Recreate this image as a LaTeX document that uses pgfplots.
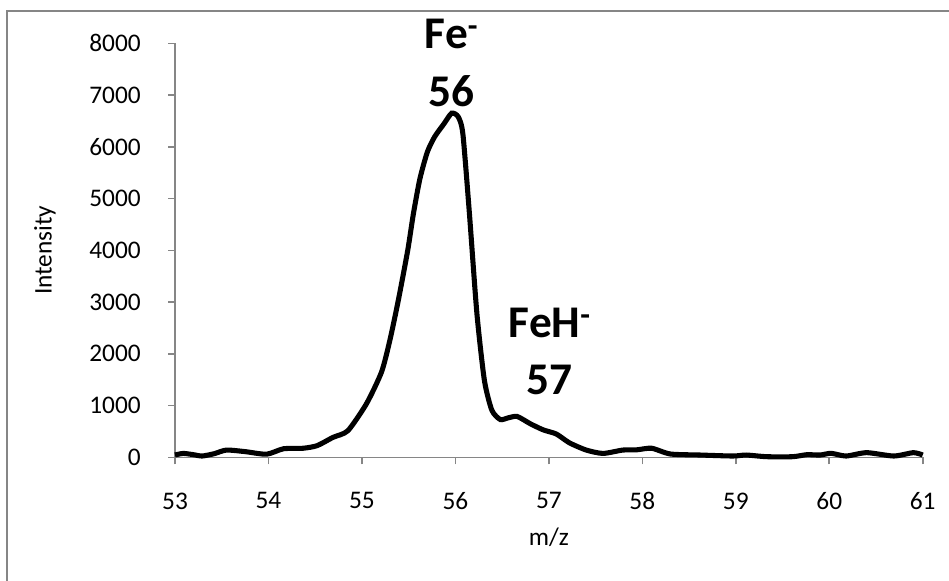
\documentclass[border=0pt]{standalone}
\usepackage{pgfplots}
\pgfplotsset{compat=1.18}
\usepackage{fontspec}
\setmainfont{Carlito}
\definecolor{axisgray}{HTML}{868686}

\begin{document}
\begin{tikzpicture}
  % page frame: 949x581 px at 0.75pt per px
  \useasboundingbox (0,0) rectangle (711.75pt,-435.75pt);
  \draw[axisgray, line width=1.5pt] (5.6pt,-440pt) -- (5.6pt,-8.25pt) -- (720pt,-8.25pt);
  \begin{axis}[
      at={(131.25pt,-342.98pt)}, anchor=south west,
      width=560.8pt, height=310.5pt, scale only axis,
      axis lines=left,
      axis line style={-, axisgray, line width=1.2pt},
      xmin=53, xmax=61,
      ymin=0, ymax=8000,
      xtick={53,54,...,61},
      ytick={0,1000,...,8000},
      tick align=outside,
      major tick length=5.25pt,
      tick style={axisgray, line width=1.2pt},
      /pgf/number format/1000 sep={},
      /pgf/number format/assume math mode=true,
      tick label style={font=\fontsize{19}{23}\selectfont},
      yticklabel style={anchor=east, inner sep=0pt, xshift=-20.25pt},
      xticklabel style={anchor=north, inner sep=0pt, yshift=-21pt},
      xlabel={m/z},
      ylabel={Intensity},
      every axis x label/.style={at={(axis description cs:0.5,-0.1925)}, anchor=center, font=\fontsize{19}{23}\selectfont},
      every axis y label/.style={at={(axis description cs:-0.174,0.5)}, rotate=90, anchor=center, font=\fontsize{19}{23}\selectfont},
      clip=false,
    ]
    \addplot[black, line width=3.8pt, smooth, tension=0.4] coordinates {
      (53.00, 45) (53.09, 75) (53.20, 50) (53.29, 25) (53.42, 70)
      (53.55, 140) (53.75, 110) (53.98, 60) (54.16, 165) (54.37, 175)
      (54.52, 225) (54.69, 385) (54.85, 515) (55.05, 1040) (55.21, 1650)
      (55.30, 2270) (55.39, 3040) (55.49, 4000) (55.55, 4700) (55.62, 5380)
      (55.70, 5900) (55.78, 6200) (55.88, 6450) (55.96, 6650) (56.03, 6580)
      (56.08, 6250) (56.15, 4710) (56.23, 2780) (56.31, 1490) (56.39, 910)
      (56.48, 730) (56.56, 760) (56.66, 790) (56.80, 650) (56.94, 530)
      (57.08, 450) (57.22, 280) (57.40, 140) (57.58, 75) (57.79, 140)
      (57.94, 145) (58.10, 175) (58.30, 64) (58.62, 44) (58.97, 25)
      (59.11, 44) (59.33, 12) (59.61, 12) (59.76, 51) (59.90, 44)
      (60.02, 77) (60.18, 25) (60.40, 90) (60.69, 25) (60.90, 90)
      (61.00, 44)
    };
    \node[anchor=base, font=\fontsize{34}{40}\selectfont\bfseries] at (axis cs:55.96,7908) {Fe\textsuperscript{-}};
    \node[anchor=base, font=\fontsize{34}{40}\selectfont\bfseries] at (axis cs:55.96,6787) {56};
    \node[anchor=base, font=\fontsize{34}{40}\selectfont\bfseries] at (axis cs:57.01,2324) {FeH\textsuperscript{-}};
    \node[anchor=base, font=\fontsize{34}{40}\selectfont\bfseries] at (axis cs:57.01,1223) {57};
  \end{axis}
\end{tikzpicture}
\end{document}
